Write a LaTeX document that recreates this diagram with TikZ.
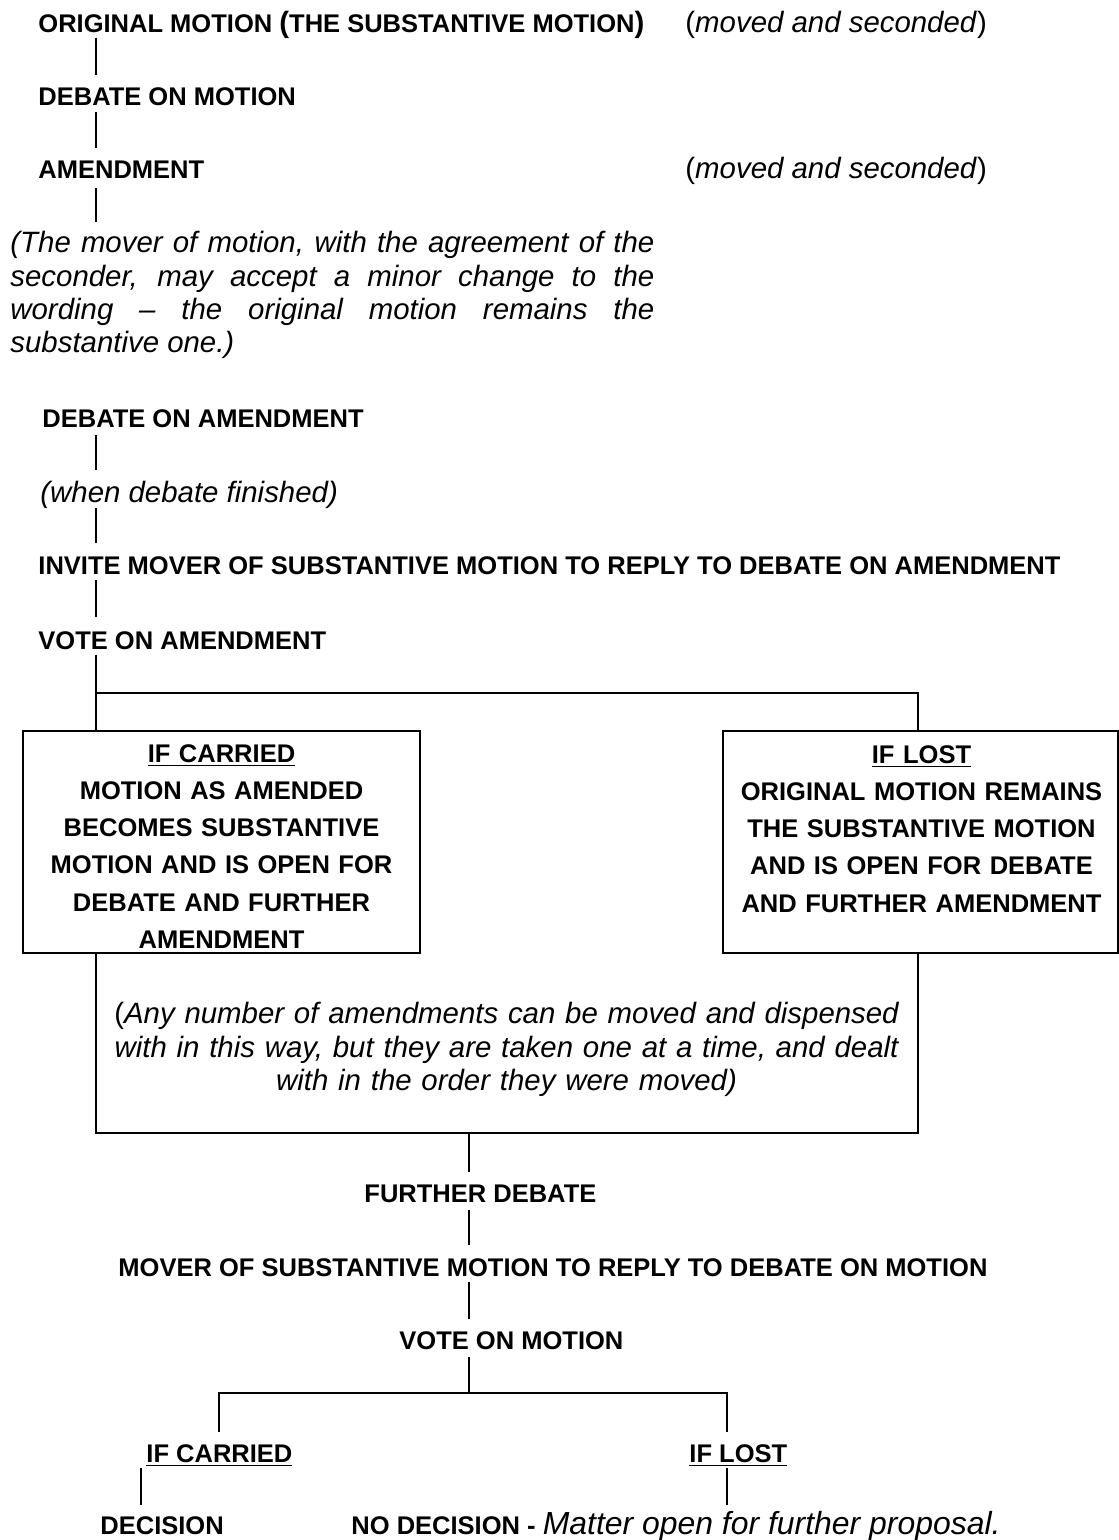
\documentclass[tikz,border=0pt]{standalone}
\usepackage{fontspec}
\setmainfont{Liberation Sans}
\usetikzlibrary{calc}
\begin{document}
\begin{tikzpicture}[x=0.47619pt,y=-0.47619pt,
  bt/.style={font=\fontsize{12.15}{14}\selectfont\bfseries, inner sep=0pt, anchor=base west},
  itx/.style={font=\fontsize{14}{16}\selectfont, inner sep=0pt, anchor=base west},
  boxt/.style={font=\fontsize{12.15}{17.71}\selectfont\bfseries, inner sep=0pt, anchor=north, text width=185pt, align=center},
  rbx/.style={draw, line width=0.95pt, minimum height=105.71pt, inner sep=0pt},
  conn/.style={line width=0.75pt},
  hconn/.style={line width=0.95pt}]
\useasboundingbox (0,0) rectangle (1119,1540);
\coordinate (spine) at (96,0);
\coordinate (rspine) at (918,0);
\coordinate (rx) at (727,0);

% upper column
\node[bt] (orig) at (38,33) {ORIGINAL MOTION {\fontsize{14}{16}\selectfont(}THE SUBSTANTIVE MOTION{\fontsize{14}{16}\selectfont)}};
\node[itx] (mv1) at (685,33) {(\textit{moved and seconded})};
\node[bt] (debm) at (38,106) {DEBATE ON MOTION};
\node[bt] (amend) at (38,179) {AMENDMENT};
\node[itx] (mv2) at (685,179) {(\textit{moved and seconded})};
\node[font=\fontsize{14}{15.86}\selectfont\itshape, inner sep=0pt, anchor=north west,
      text width=306.67pt, align=justify] (para) at (10,231)
  {\hyphenpenalty=10000 (The mover of motion, with the agreement of the\linebreak seconder, may accept a minor change to the\linebreak wording \textendash{} the original motion remains the\linebreak substantive one.)};
\node[bt] (deba) at (42,427) {DEBATE ON AMENDMENT};
\node[itx] (when) at (40,502) {\textit{(when debate finished)}};
\node[bt] (invite) at (38,574) {INVITE MOVER OF SUBSTANTIVE MOTION TO REPLY TO DEBATE ON AMENDMENT};
\node[bt] (vam) at (38,649) {VOTE ON AMENDMENT};

\draw[conn] ($(orig.base -| spine)+(0,5)$) -- ($(debm.base -| spine)+(0,-31)$);
\draw[conn] ($(debm.base -| spine)+(0,6)$) -- ($(amend.base -| spine)+(0,-31)$);
\draw[conn] ($(amend.base -| spine)+(0,9)$) -- ($(para.north -| spine)+(0,-9)$);
\draw[conn] ($(deba.base -| spine)+(0,8)$) -- ($(when.base -| spine)+(0,-32)$);
\draw[conn] ($(when.base -| spine)+(0,6)$) -- ($(invite.base -| spine)+(0,-31)$);
\draw[conn] ($(invite.base -| spine)+(0,6)$) -- ($(vam.base -| spine)+(0,-32)$);

% outcome boxes
\node[rbx, minimum width=189.05pt] (lbox) at (221.5,842) {};
\node[rbx, minimum width=188.1pt] (rbox) at (920.5,842) {};
\node[boxt] (ltext) at (221.5,744) {\underline{IF CARRIED}\\MOTION AS AMENDED\\BECOMES SUBSTANTIVE\\MOTION AND IS OPEN FOR\\DEBATE AND FURTHER\\AMENDMENT};
\node[boxt] (rtext) at (921.5,745) {\underline{IF LOST}\\ORIGINAL MOTION REMAINS\\THE SUBSTANTIVE MOTION\\AND IS OPEN FOR DEBATE\\AND FURTHER AMENDMENT};

\coordinate (split) at (96,693);
\draw[conn] ($(vam.base -| spine)+(0,6)$) -- (lbox.north -| spine);
\draw[hconn] (split) -| (rbox.north -| rspine);

% frame below the boxes
\coordinate (fb) at (469,1133);
\draw[hconn] (lbox.south -| spine) |- (fb) -| (rbox.south -| rspine);
\node[font=\fontsize{14}{15.95}\selectfont\itshape, inner sep=0pt, anchor=north, align=center,
      text width=380pt] (anyt) at (506.5,1002)
  {\textup{(}Any number of amendments can be moved and dispensed\\with in this way, but they are taken one at a time, and dealt\\with in the order they were moved)};

% lower column
\node[bt] (fd) at (364,1202) {FURTHER DEBATE};
\node[bt] (mover) at (118,1276) {MOVER OF SUBSTANTIVE MOTION TO REPLY TO DEBATE ON MOTION};
\node[bt] (vom) at (399,1349) {VOTE ON MOTION};
\coordinate (vsplit) at (469,1393);
\node[bt] (ifc) at (146,1462) {\underline{IF CARRIED}};
\node[bt] (ifl) at (689,1462) {\underline{IF LOST}};
\node[bt] (dec) at (100,1534) {DECISION};
\node[bt] (nodec) at (351,1534) {NO DECISION - {\fontsize{15.2}{16}\selectfont\mdseries\itshape Matter open for further proposal.}};

\draw[conn] (fb) -- ($(fd.base -| fb)+(0,-30)$);
\draw[conn] ($(fd.base -| fb)+(0,8)$) -- ($(mover.base -| fb)+(0,-31)$);
\draw[conn] ($(mover.base -| fb)+(0,6)$) -- ($(vom.base -| fb)+(0,-30)$);
\draw[conn] ($(vom.base -| fb)+(0,8)$) -- (vsplit);
\draw[hconn] ($(ifc.base)+(0,-30)$) |- (vsplit) -| ($(ifl.base -| rx)+(0,-30)$);
\draw[conn] ($(ifc.base west)+(-5,6)$) -- ($(ifc.base west |- dec.base)+(-5,-29)$);
\draw[conn] ($(ifl.base -| rx)+(0,6)$) -- ($(nodec.base -| rx)+(0,-29)$);
\end{tikzpicture}
\end{document}
